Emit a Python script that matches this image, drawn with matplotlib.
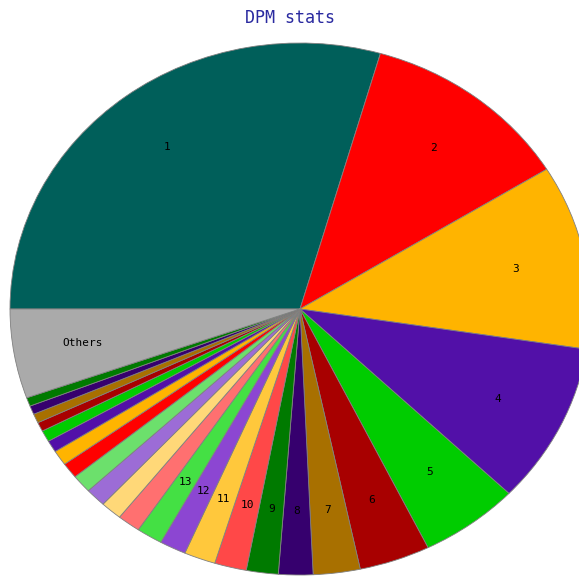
import matplotlib
matplotlib.use('Agg')
import matplotlib.pyplot as plt

# slice sizes (degrees), largest first, "Others" last
labels = ['1', '2', '3', '4', '5', '6', '7', '8', '9', '10', '11', '12', '13',
          '', '', '', '', '', '', '', '', '', '', '', '', 'Others']
values = [106.1, 42.2, 40.4, 35.2, 19.9, 14.2, 9.4, 6.9, 6.4, 6.4, 6.3, 5.3, 5.2,
          4.6, 4.3, 4.1, 4.0, 3.4, 3.3, 2.6, 2.5, 2.0, 2.0, 1.9, 1.9, 19.5]
colors = ['#005f5a', '#ff0000', '#ffb400', '#5210a8', '#00cc00', '#a80000',
          '#a87000', '#36006e', '#007a00', '#ff4848', '#ffc83c', '#8c46d2',
          '#44e044', '#ff7070', '#ffd878', '#9c6cd6', '#6ce06c', '#ff0000',
          '#ffb400', '#5210a8', '#00cc00', '#a80000', '#a87000', '#36006e',
          '#007a00', '#aaaaaa']

fig = plt.figure(figsize=(5.79, 5.76), dpi=100)
ax = fig.add_axes([0, 0, 1, 1])

wedges, texts = ax.pie(values, labels=labels, colors=colors, startangle=180,
                       counterclock=False, labeldistance=0.76,
                       wedgeprops={'edgecolor': '#808080', 'linewidth': 0.6},
                       textprops={'fontsize': 8, 'family': 'DejaVu Sans Mono',
                                  'ha': 'center', 'va': 'center'})

# the original pie is a bit wider than tall and runs off the right edge
ax.set_aspect('auto')
ax.set_xlim(-300 / 290, 279 / 290)
ax.set_ylim(-267 / 266, 309 / 266)
ax.axis('off')

fig.text(290 / 579, 1 - 18 / 576, 'DPM stats', ha='center', va='center',
         fontsize=12, family='DejaVu Sans Mono', color='#2a2aa0')

plt.savefig('out.png', dpi=100)
